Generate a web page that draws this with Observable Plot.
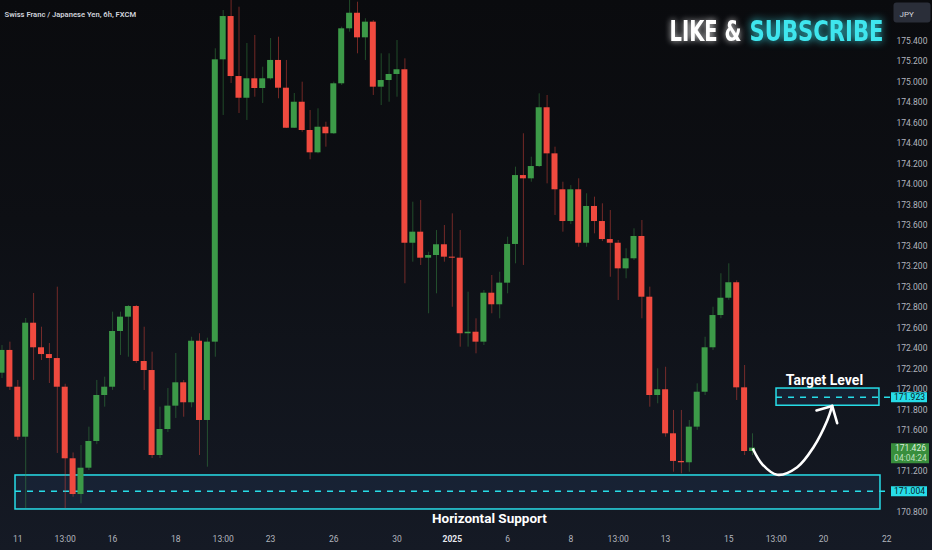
<!DOCTYPE html>
<html><head><meta charset="utf-8">
<script src="https://cdn.jsdelivr.net/npm/d3@7"></script>
<script src="https://cdn.jsdelivr.net/npm/@observablehq/plot@0.6"></script>
<style>
html,body{margin:0;padding:0;}
body{width:932px;height:550px;overflow:hidden;background:linear-gradient(180deg,#0a0b0e 0%,#0d0f14 40%,#151a25 100%);}
#chart svg{display:block;}
</style></head><body><div id="chart"></div>
<script>
// ---- data (6h candles, CHF/JPY) ----
const openP = [172.158,172.380,172.021,171.533,172.646,172.406,172.340,172.301,172.021,171.322,
170.973,171.230,171.491,171.940,172.021,172.565,172.705,172.809,172.272,172.184,
171.354,171.608,171.836,172.064,171.869,172.470,171.696,172.461,175.218,175.641,
175.055,174.843,175.033,174.938,175.033,175.212,174.941,174.550,174.804,174.528,
174.310,174.560,174.496,174.984,175.521,175.673,175.433,175.586,174.951,175.016,
175.075,175.121,173.427,173.535,173.281,173.307,173.412,173.291,173.281,172.543,
172.558,172.461,172.939,172.826,173.037,173.415,174.088,174.056,174.176,174.750,
174.300,173.949,173.639,173.949,173.427,173.786,173.639,173.463,173.427,173.177,
173.275,173.493,172.900,171.940,171.996,171.566,171.296,171.283,171.631,171.972,
172.406,172.721,172.890,173.041,172.015,171.393];
const highP = [172.428,172.461,172.087,172.692,172.936,172.607,172.448,172.998,172.050,171.379,
171.452,171.631,172.087,172.119,172.754,172.754,172.819,172.819,172.607,172.363,
171.826,172.008,172.350,172.087,172.509,172.543,172.500,175.326,175.700,175.850,
175.732,175.378,175.456,175.146,175.426,175.439,175.212,174.889,175.000,174.723,
174.740,174.609,175.000,175.537,175.820,175.781,175.619,175.602,175.277,175.277,
175.407,175.228,173.828,173.844,173.339,173.551,173.600,173.714,173.551,172.949,
172.689,172.965,173.112,173.144,173.486,174.170,174.496,174.267,174.886,174.870,
174.365,174.023,173.990,174.056,173.910,173.877,173.812,173.747,173.454,173.373,
173.568,173.649,172.998,172.201,172.216,171.794,171.794,171.696,172.054,172.509,
172.802,173.129,173.226,173.060,172.233,171.566];
const lowP = [172.106,171.989,171.501,170.837,172.087,172.282,172.057,171.374,170.834,170.947,
170.882,171.208,171.460,171.826,171.990,172.331,172.314,172.253,171.989,171.325,
171.325,171.579,171.716,171.728,171.820,171.354,171.240,172.314,174.675,174.987,
174.694,174.626,174.853,174.792,175.020,174.838,174.547,174.547,174.511,174.242,
174.300,174.365,174.489,174.967,175.488,175.277,175.212,174.870,174.772,174.804,
174.853,173.031,173.242,173.210,172.738,172.933,173.242,172.802,172.412,172.412,
172.347,172.428,172.738,172.689,172.933,173.226,173.210,174.023,174.166,174.007,
173.698,173.535,173.610,173.388,173.388,173.519,173.444,173.095,172.868,173.080,
173.258,172.689,171.826,171.859,171.533,171.191,171.175,171.191,171.600,171.940,
172.380,172.690,172.870,171.891,171.354,171.354];
const closeP = [172.380,172.021,171.533,172.646,172.406,172.340,172.301,172.021,171.322,170.973,
171.230,171.491,171.940,172.021,172.565,172.705,172.809,172.272,172.184,171.354,
171.608,171.836,172.064,171.869,172.470,171.696,172.461,175.218,175.641,175.055,
174.843,175.033,174.938,175.033,175.212,174.941,174.550,174.804,174.528,174.310,
174.560,174.496,174.984,175.521,175.673,175.433,175.586,174.951,175.016,175.075,
175.121,173.427,173.535,173.281,173.307,173.412,173.291,173.281,172.543,172.558,
172.461,172.939,172.826,173.037,173.415,174.088,174.056,174.176,174.750,174.300,
173.949,173.639,173.949,173.427,173.786,173.639,173.463,173.427,173.177,173.275,
173.493,172.900,171.940,171.996,171.566,171.296,171.283,171.631,171.972,172.406,
172.721,172.890,173.041,172.015,171.393,171.426];

const xTickIdx = [2,8,14,22,28,34,42,50,64,72,78,84,92,98,104,112];
const xTickLabels = ["11","13:00","16","18","13:00","23","26","30","6","8","13:00","13","15","13:00","20","22"];
const yearTickIdx = [57];
const yearTickLabels = ["2025"];
// 171.000, 171.400 and 175.600 are hidden behind label boxes in the reference
const yTicks = [170.8,171.2,171.6,171.8,172.0,172.2,172.4,172.6,172.8,173.0,
173.2,173.4,173.6,173.8,174.0,174.2,174.4,174.6,174.8,175.0,175.2,175.4];

const supportLevel = 171.004;
const supportZone = {x1: 1.71, x2: 111.2, y1: 170.827, y2: 171.159};
const targetLevel = 171.923;
const targetZone = {x1: 98.04, x2: 111.07, y1: 171.840, y2: 172.008};
const lastPrice = 171.426;
const countdown = "04:04:24";
const arrowPath = [[95.09,171.413],[96.27,171.266],[98.13,171.166],[100.66,171.240],[102.72,171.435],[104.46,171.696],[105.09,171.838]];
const arrowHead = [[103.10,171.794],[105.09,171.838],[105.72,171.670]];
const title = "Swiss Franc / Japanese Yen, 6h, FXCM";

// ---- build ----
const GREEN = "#3c9a48", RED = "#f04a3f", CYAN = "#27dde8", AXIS = "#b2b5be";
const FONT = "Roboto, 'Noto Sans', sans-serif";
const candles = openP.map((o, i) => ({i, open: o, high: highP[i], low: lowP[i], close: closeP[i]}));
const col = d => d.close >= d.open ? GREEN : RED;

const chart = Plot.plot({
  width: 932, height: 550,
  marginTop: 0, marginLeft: 0, marginRight: 47, marginBottom: 25,
  style: "background: transparent; overflow: visible;",
  x: {type: "linear", domain: [-0.19, 111.835], axis: null},
  y: {domain: [170.6705, 175.7975]},
  color: {type: "identity"},
  marks: [
    // support zone
    Plot.rect([supportZone], {x1: "x1", x2: "x2", y1: "y1", y2: "y2", fill: "#1b2c44", fillOpacity: 0.55, stroke: CYAN, strokeWidth: 1.5}),
    Plot.ruleY([supportLevel], {x1: supportZone.x1, x2: 112.6, stroke: CYAN, strokeWidth: 1.5, strokeDasharray: "6,6"}),
    // target zone
    Plot.rect([targetZone], {x1: "x1", x2: "x2", y1: "y1", y2: "y2", fill: "#1b2c44", fillOpacity: 0.55, stroke: CYAN, strokeWidth: 1.5}),
    Plot.ruleY([targetLevel], {x1: targetZone.x1, x2: 112.6, stroke: CYAN, strokeWidth: 1.5, strokeDasharray: "6,6"}),
    // candles
    Plot.ruleX(candles, {x: "i", y1: "low", y2: "high", stroke: col, strokeOpacity: 0.45, strokeWidth: 1}),
    Plot.rect(candles, {x1: d => d.i - 0.38, x2: d => d.i + 0.38, y1: "open", y2: "close", fill: col}),
    // arrow
    Plot.line(arrowPath, {x: d => d[0], y: d => d[1], curve: "catmull-rom", stroke: "white", strokeWidth: 2.6, strokeLinecap: "round"}),
    Plot.line(arrowHead, {x: d => d[0], y: d => d[1], stroke: "white", strokeWidth: 2.6, strokeLinecap: "round", strokeLinejoin: "round"}),
    // annotations text
    Plot.text(["Target Level"], {x: 104.11, y: 172.087, text: d => d, fill: "white", fontSize: 14, fontWeight: 700, fontFamily: FONT}),
    Plot.text(["Horizontal Support"], {x: 61.7, y: 170.739, text: d => d, fill: "white", fontSize: 13.5, fontWeight: 700, fontFamily: FONT}),
    // right axis
    Plot.axisY(yTicks, {anchor: "right", tickSize: 0, tickPadding: 11, tickFormat: d => d.toFixed(3), fill: AXIS, fontSize: 8.5, fontFamily: FONT, label: null}),
    // bottom axis labels
    Plot.text(xTickIdx, {x: d => d, text: (d, i) => xTickLabels[i], frameAnchor: "bottom", dy: 16.5, fill: AXIS, fontSize: 8.5, fontFamily: FONT}),
    Plot.text(yearTickIdx, {x: d => d, text: (d, i) => yearTickLabels[i], frameAnchor: "bottom", dy: 16.5, fill: "#e6e8ee", fontSize: 8.5, fontWeight: 700, fontFamily: FONT}),
    // price label boxes
    Plot.tickY([targetLevel, supportLevel], {y: d => d, stroke: CYAN, strokeWidth: 10, insetLeft: 891, insetRight: -42}),
    Plot.text([targetLevel, supportLevel], {y: d => d, text: d => d.toFixed(3), frameAnchor: "right", textAnchor: "middle", dx: 24, fill: "#0a1a24", fontSize: 8.5, fontFamily: FONT}),
    Plot.tickY([lastPrice], {y: d => d, dy: 5, stroke: "#388e3c", strokeWidth: 20, insetLeft: 891, insetRight: -44}),
    Plot.text([lastPrice], {y: d => d, text: d => d.toFixed(3), frameAnchor: "right", textAnchor: "middle", dx: 25, fill: "#d8ecd8", fontSize: 8.5, fontFamily: FONT}),
    Plot.text([lastPrice], {y: d => d, text: () => countdown, frameAnchor: "right", textAnchor: "middle", dx: 25, dy: 10, fill: "#bfe0bf", fontSize: 8.5, fontFamily: FONT}),
    // JPY box
    Plot.frame({fill: "#2a2e39", rx: 3, insetLeft: 893, insetRight: -45, insetTop: 2, insetBottom: 503}),
    Plot.text(["JPY"], {text: d => d, frameAnchor: "top-right", dx: 14, dy: 11, textAnchor: "start", fill: "#d1d4dc", fontSize: 8, fontFamily: FONT}),
    // title
    Plot.text([title], {text: d => d, frameAnchor: "top-left", dx: 4, dy: 11, textAnchor: "start", fill: "#d1d4dc", fontSize: 7.6, fontWeight: 600, fontFamily: FONT}),
    // LIKE & SUBSCRIBE
    Plot.text(["LIKE &"], {text: d => d, frameAnchor: "top-left", dx: 669, dy: 40, lineAnchor: "bottom", textAnchor: "start", fill: "#ffffff", fontSize: 28, fontWeight: 700, fontFamily: "'Liberation Sans Narrow', 'DejaVu Sans Condensed', sans-serif"}),
    Plot.text(["SUBSCRIBE"], {text: d => d, frameAnchor: "top-left", dx: 749, dy: 40, lineAnchor: "bottom", textAnchor: "start", fill: "#3fe6ee", fontSize: 28, fontWeight: 700, fontFamily: "'Liberation Sans Narrow', 'DejaVu Sans Condensed', sans-serif"})
  ]
});

const svg = d3.select(chart);
svg.selectAll("text").each(function() {
  const t = this.textContent;
  if (t === "LIKE &") {
    d3.select(this).attr("textLength", 72).attr("lengthAdjust", "spacingAndGlyphs")
      .style("filter", "drop-shadow(0 0 3px rgba(255,255,255,0.8))");
  } else if (t === "SUBSCRIBE") {
    d3.select(this).attr("textLength", 134).attr("lengthAdjust", "spacingAndGlyphs")
      .style("filter", "drop-shadow(0 0 4px rgba(60,230,240,0.9))");
  }
});
document.getElementById("chart").appendChild(chart);
</script></body></html>
